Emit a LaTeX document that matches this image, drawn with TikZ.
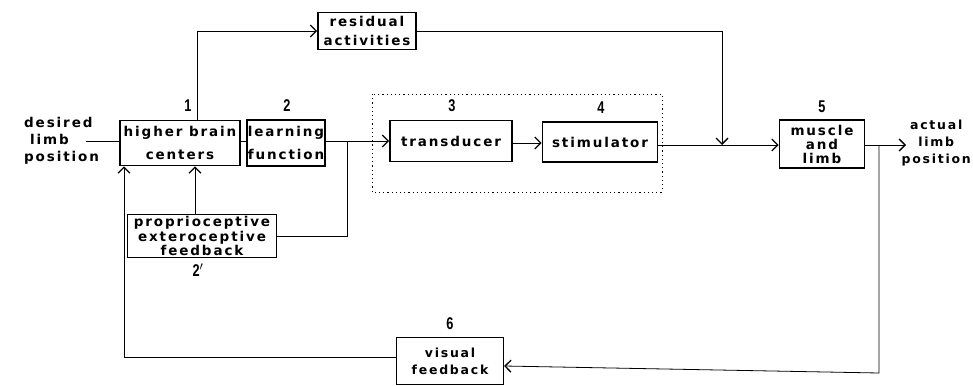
\documentclass[tikz,border=0pt]{standalone}
\usepackage{fontspec}
\setmainfont{DejaVu Sans}[LetterSpace=14]
\newfontfamily\numfont{Liberation Sans}[FakeStretch=0.75]
\usetikzlibrary{arrows.meta}
\begin{document}
\begin{tikzpicture}[x=1pt,y=-1pt,
  box/.style={draw,line width=1.6pt,inner sep=0pt,align=center,
    font=\fontsize{13.5}{14}\selectfont\bfseries},
  txt/.style={inner sep=0pt,font=\fontsize{13.5}{17}\selectfont\bfseries},
  num/.style={inner sep=0pt,font=\numfont\fontsize{17}{17}\selectfont\bfseries},
  conn/.style={line width=0.8pt},
  arr/.style={conn,-{Straight Barb[length=6pt,width=12pt,line width=1.3pt]}},
  dotbox/.style={line width=0.8pt,dash pattern=on 1.2pt off 3pt}]
\useasboundingbox (0,0) rectangle (973,385);
% boxes
\node[box,minimum width=120pt,minimum height=45pt] (hbc) at (180,143)
  {higher brain\\[9pt]centers};
\node[box,minimum width=78pt,minimum height=46pt] (lf) at (286,143)
  {learning\\[9pt]function};
\node[box,minimum width=149pt,minimum height=43pt,
  font=\fontsize{13.5}{13}\selectfont\bfseries] (prop) at (202,236)
  {proprioceptive\\exteroceptive\\feedback};
\node[box,minimum width=122pt,minimum height=41pt] (tr) at (451,141) {transducer};
\node[box,minimum width=115pt,minimum height=40pt] (st) at (600,142) {stimulator};
\node[box,minimum width=98pt,minimum height=37pt] (ra) at (367,31)
  {residual\\[5pt]activities};
\node[box,minimum width=85pt,minimum height=48pt,
  font=\fontsize{13.5}{14}\selectfont\bfseries] (ml) at (822,144)
  {muscle\\and\\limb};
\node[box,line width=1.2pt,minimum width=107pt,minimum height=47pt,
  font=\fontsize{12.5}{13}\selectfont\bfseries] (vf) at (450,361)
  {visual\\[4pt]feedback};
% dotted enclosure
\draw[dotbox] (372,94) rectangle (662,192);
% numbers
\node[num] (n1) at (188,106) {1};
\node[num] (n2) at (287,106) {2};
\node[num] (n3) at (452,106) {3};
\node[num] (n4) at (601,108) {4};
\node[num] (n5) at (822,107) {5};
\node[num] (n6) at (450,324) {6};
\node[num] (n2p) at (198,270) {2$'$};
% outside texts
\node[txt,align=left,anchor=west] (des) at (24,141) {desired\\\hspace*{6pt}limb\\position};
\node[txt,align=center,anchor=east,font=\fontsize{12.5}{17}\selectfont\bfseries]
  (act) at (971,143) {actual\\limb\\position};
% junction coordinates
\coordinate (j1) at (347,141);
\coordinate (j1b) at (347,236);
\coordinate (up1) at (197,31);
\coordinate (r1) at (722,31);
\coordinate (r2) at (722,145);
\coordinate (o1) at (879,145);
\coordinate (o2) at (879,373);
\coordinate (l1) at (124,357);
\coordinate (outend) at (906,145);
% connectors
\draw[conn] (86,141) -- (hbc.west |- 0,141);
\draw[conn] (hbc.east |- 0,141) -- (lf.west |- 0,141);
\draw[arr] (lf.east |- 0,141) -- (tr.west |- 0,141);
\draw[conn] (j1) -- (j1b) -- (prop.east |- j1b);
\draw[arr] (prop.north -| 195,0) -- (hbc.south -| 195,0);
\draw[arr] (hbc.north -| up1) -- (up1) -- (ra.west);
\draw[arr] (ra.east) -- (r1) -- (r2);
\draw[arr] (tr.east |- 0,143) -- (st.west |- 0,143);
\draw[arr] (st.east |- 0,145) -- (ml.west |- 0,145);
\draw[arr] (ml.east |- 0,145) -- (outend);
\draw[arr] (o1) -- (o2) -- (vf.east |- 0,366);
\draw[arr] (vf.west |- l1) -- (l1) -- (hbc.south -| l1);
\end{tikzpicture}
\end{document}
